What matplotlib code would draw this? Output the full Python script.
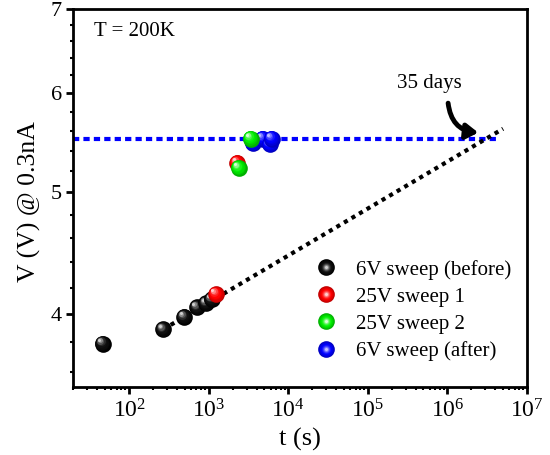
import numpy as np
import matplotlib
matplotlib.use('Agg')
import matplotlib.pyplot as plt
from matplotlib.transforms import offset_copy
from matplotlib.lines import Line2D
from matplotlib.legend_handler import HandlerTuple
from matplotlib.ticker import LogLocator, FixedLocator, NullFormatter, FuncFormatter

plt.rcParams['font.family'] = ['Liberation Serif', 'DejaVu Serif']
plt.rcParams['mathtext.fontset'] = 'custom'
plt.rcParams['mathtext.rm'] = 'Liberation Serif'
plt.rcParams['mathtext.it'] = 'Liberation Serif:italic'

# data
t_before = [47, 268, 492, 716, 930, 1090]
v_before = [3.79, 3.89, 3.98, 4.05, 4.08, 4.11]
t_sweep1 = [1240, 2300]
v_sweep1 = [4.15, 5.28]
t_sweep2 = [2400, 3370]
v_sweep2 = [5.23, 5.52]
t_after = [3570, 4780, 5850, 6200]
v_after = [5.47, 5.52, 5.46, 5.52]

# fitted line and saturation level
t_fit = [268, 5.0e6]
v_fit = [3.89, 5.62]
t_sat = [20, 4.3e6]
v_sat = [5.52, 5.52]

labels = ['6V sweep (before)', '25V sweep 1', '25V sweep 2', '6V sweep (after)']
# rim, body, highlight
shades = [('#000000', '#101010', '#d0d0d0'),
          ('#c00000', '#ff0000', '#ffd0d0'),
          ('#00b000', '#00f000', '#d8ffd8'),
          ('#0000c0', '#0000ff', '#c0c0ff')]

MS = 12.0
NL = 8


def hex2rgb(h):
    return np.array(matplotlib.colors.to_rgb(h))


def layer_colors(rim, body, hi):
    rim, body, hi = hex2rgb(rim), hex2rgb(body), hex2rgb(hi)
    cols = []
    for i in range(NL):
        f = i / (NL - 1)
        if f < 0.4:
            c = rim + (body - rim) * f / 0.4
        else:
            c = body + (hi - body) * ((f - 0.4) / 0.6) ** 1.6
        cols.append(np.clip(c, 0, 1))
    return cols


def balls(ax, xs, ys, shade, z):
    cols = layer_colors(*shade)
    for k, (x, y) in enumerate(zip(xs, ys)):
        for i in range(NL):
            f = i / (NL - 1)
            off = 0.22 * MS * f
            tr = offset_copy(ax.transData, fig=ax.figure, x=-off, y=off, units='points')
            ax.plot([x], [y], 'o', ms=MS * (1 - 0.82 * f), mfc=cols[i], mec='none',
                    transform=tr, zorder=z + k * 0.05 + i * 0.001, clip_on=False)


fig = plt.figure(figsize=(5.5, 4.55), dpi=100)
ax = fig.add_axes([0.1336, 0.1495, 0.8246, 0.8307])
ax.set_xscale('log')
ax.set_yscale('log')

ax.plot(t_sat, v_sat, color='#0000ff', lw=3, dashes=(1.5, 1.0), zorder=2)
ax.plot(t_fit, v_fit, color='k', lw=3, dashes=(1.0, 1.1), zorder=2)

balls(ax, t_before, v_before, shades[0], 3)
balls(ax, t_sweep1, v_sweep1, shades[1], 4)
balls(ax, t_after, v_after, shades[3], 5)
balls(ax, t_sweep2, v_sweep2, shades[2], 6)

ax.set_xlim(20, 1e7)
ax.set_ylim(3.5, 7.0)

ax.xaxis.set_major_locator(LogLocator(base=10, numticks=10))
ax.xaxis.set_minor_locator(LogLocator(base=10, subs=np.arange(2, 10), numticks=20))
ax.xaxis.set_minor_formatter(NullFormatter())
ax.yaxis.set_major_locator(FixedLocator([4, 5, 6, 7]))
ax.yaxis.set_minor_locator(FixedLocator(np.arange(3.6, 7.0, 0.2)))
ax.yaxis.set_major_formatter(FuncFormatter(lambda v, p: '%d' % round(v)))
ax.yaxis.set_minor_formatter(NullFormatter())

ax.tick_params(which='major', direction='out', length=5, width=2, labelsize=16)
ax.tick_params(axis='x', which='major', labelsize=17, pad=4)
ax.tick_params(which='minor', direction='out', length=2.5, width=1.5)
ax.tick_params(top=False, right=False, which='both')
for sp in ax.spines.values():
    sp.set_linewidth(2)

ax.set_xlabel('t (s)', fontsize=19, labelpad=4)
ax.set_ylabel('V (V) @ 0.3nA', fontsize=18.5)
ax.yaxis.set_label_coords(-0.072, 0.49)

ax.text(0.045, 0.94, 'T = 200K', transform=ax.transAxes, fontsize=15, va='center', ha='left')

ax.annotate('', xy=(2.44e6, 5.58), xytext=(1.02e6, 5.89),
            arrowprops=dict(arrowstyle='-|>,head_length=0.7,head_width=0.45', lw=3.5, color='k',
                            connectionstyle='arc3,rad=0.4', shrinkA=0, shrinkB=0))
ax.text(6.0e5, 6.11, '35 days', fontsize=15, ha='center', va='center')

handles = []
for shade in shades:
    cols = layer_colors(*shade)
    parts = tuple(Line2D([], [], ls='none', marker='o', ms=MS * (1 - 0.82 * i / (NL - 1)),
                         mfc=cols[i], mec='none') for i in range(NL))
    handles.append(parts)
ax.legend(handles, labels, handler_map={tuple: HandlerTuple(ndivide=1, pad=0)},
          loc='upper left', bbox_to_anchor=(0.53, 0.337), frameon=False, fontsize=15,
          handlelength=1.2, handletextpad=0.8, labelspacing=0.36, borderpad=0, borderaxespad=0)

fig.savefig('out.png', dpi=100)
